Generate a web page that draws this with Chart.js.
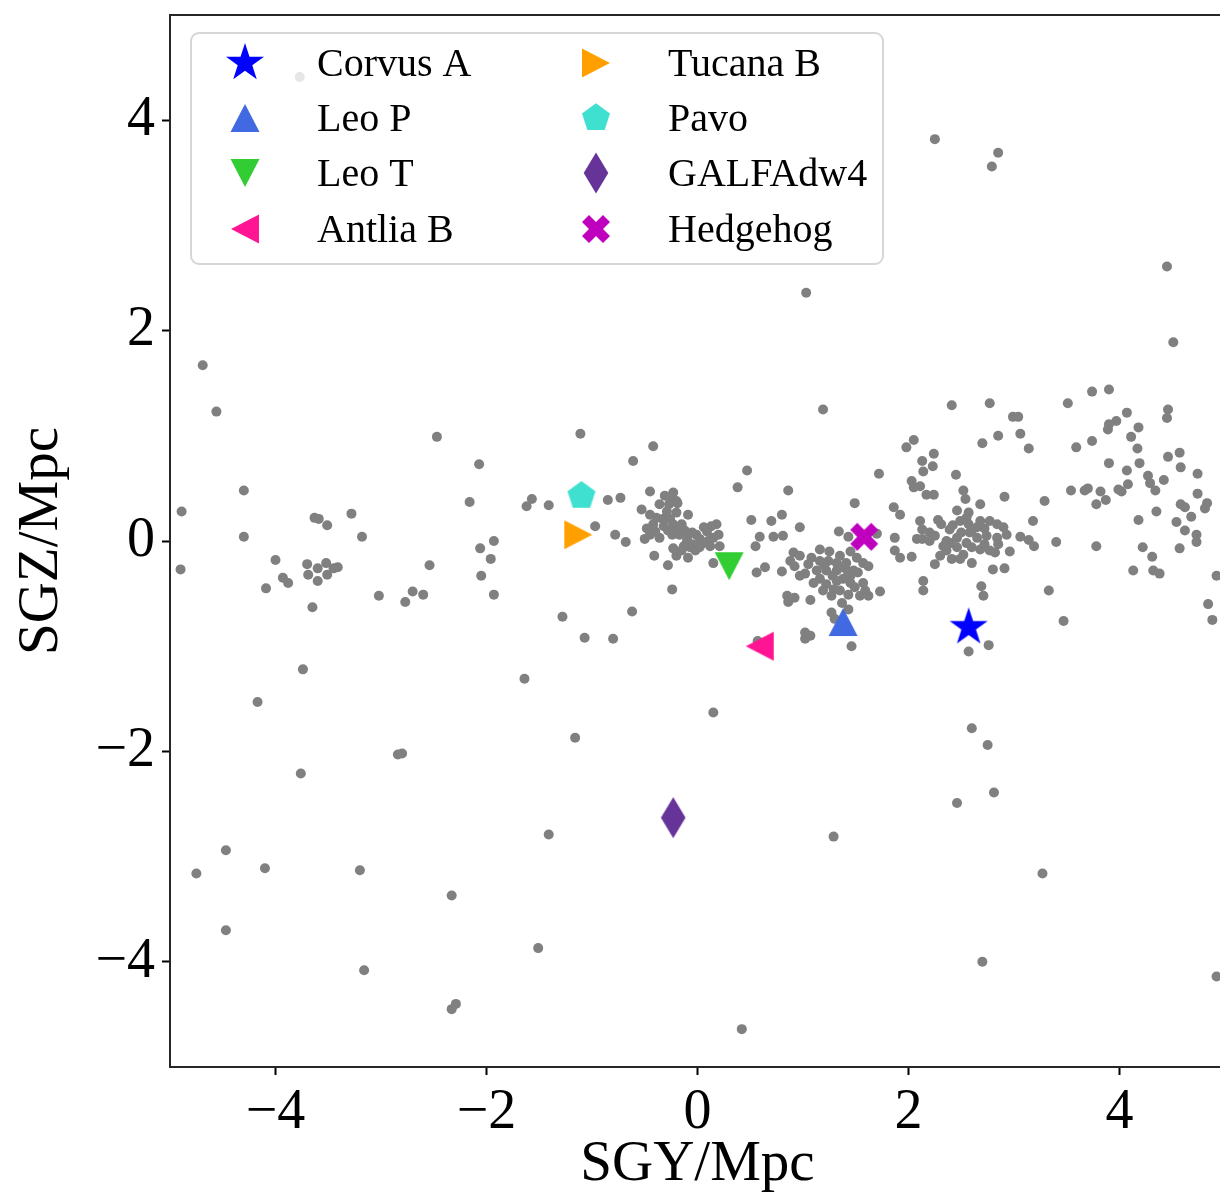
<!DOCTYPE html>
<html>
<head>
<meta charset="utf-8">
<script src="https://cdn.jsdelivr.net/npm/chart.js@4.4.1/dist/chart.umd.min.js"></script>
<style>
	html, body { margin: 0; padding: 0; background: #fff; overflow: hidden; }
	#wrap { position: absolute; left: 0; top: 0; width: 1240px; height: 1201px; }
</style>
</head>
<body>
<div id="wrap"><canvas id="chart" width="1240" height="1201"></canvas></div>
<script>
// field galaxies, grouped by region (SGY, SGZ in Mpc)
const westX = [-4.69,-4.56,-2.47,-2.07,-2.16,-4.30,-4.89,-3.63,-3.59,-3.51,-3.28,-4.30,-3.18,-1.93,-2.06,-1.96,-2.05,-1.93,-2.54,-4.90,-4.00,-3.93,-3.88,-4.09,-3.70,-3.69,-3.60,-3.52,-3.51,-3.60,-3.45,-3.41,-3.65,-3.02,-2.77,-2.70,-2.60];
const westY = [1.67,1.23,0.99,0.73,0.37,0.48,0.28,0.22,0.21,0.15,0.26,0.04,0.04,0.00,-0.07,-0.17,-0.33,-0.51,-0.23,-0.27,-0.18,-0.35,-0.40,-0.45,-0.22,-0.32,-0.26,-0.21,-0.32,-0.38,-0.26,-0.25,-0.63,-0.52,-0.58,-0.48,-0.51];

const southwestX = [-3.74,-4.17,-2.80,-2.84,-3.76,-4.47,-4.75,-4.10,-3.20,-2.33,-4.47,-3.16,-2.29,-2.33,-3.77];
const southwestY = [-1.22,-1.53,-2.02,-2.03,-2.21,-2.94,-3.16,-3.11,-3.13,-3.37,-3.70,-4.08,-4.40,-4.45,4.41];

const localX = [1.03,1.19,-1.11,-0.42,-0.61,0.47,0.38,0.86,1.49,-1.57,-1.62,-1.41,-0.85,-0.73,-0.45,-0.23,-0.20,-0.09,-0.97,-0.78,-0.68,0.51,0.70,0.80,0.97,0.59,0.55,0.72,0.81,1.34,1.43,-0.41,-0.28,-0.20,-0.09,0.15,-0.24,0.56,0.64,0.80,1.07,-0.62];
const localY = [2.36,1.25,1.02,0.90,0.76,0.67,0.51,0.48,0.36,0.40,0.33,0.34,0.39,0.41,0.47,0.46,0.38,0.25,0.14,0.06,-0.01,0.20,0.19,0.25,0.13,0.04,-0.05,0.04,0.05,0.09,0.04,-0.14,-0.23,-0.14,-0.16,-0.21,-0.46,-0.30,-0.25,-0.29,-0.56,-0.67];

const localCoreX = [-0.31,-0.19,-0.36,-0.53,-0.45,-0.29,-0.20,-0.42,-0.32,-0.23,-0.45,-0.36,-0.50,-0.24,-0.17,-0.09,-0.01,0.06,0.13,0.20,0.02,0.10,-0.05,-0.13,-0.23,-0.15,-0.02,0.12,0.21,0.09,0.18,-0.39,-0.15,-0.10,0.02,
	-0.48,-0.40,-0.28,-0.33,-0.26,-0.20,-0.12,-0.05,-0.07,0.05,0.15,-0.27,-0.25];
const localCoreY = [0.43,0.36,0.35,0.30,0.25,0.28,0.27,0.16,0.14,0.16,0.06,0.03,0.02,0.06,0.06,0.05,0.06,0.13,0.14,0.06,0.02,0.00,-0.03,-0.05,-0.07,-0.09,-0.09,-0.05,-0.05,0.09,0.16,0.22,0.16,0.00,-0.06,
	0.12,0.09,0.10,0.21,0.21,0.11,0.10,0.08,-0.06,-0.02,0.03,0.35,0.40];

const southX = [-1.28,-1.07,-0.80,-1.64,0.15,-1.16,-1.41,1.29,-1.51,0.42,0.57];
const southY = [-0.72,-0.92,-0.93,-1.31,-1.63,-1.87,-2.79,-2.81,-3.87,-4.64,-0.95];

const centralX = [1.70,1.87,1.87,1.92,0.97,1.02,0.91,0.97,0.88,0.92,1.08,1.16,1.16,1.24,1.32,1.41,1.51,1.57,1.62,1.13,1.22,1.32,1.38,1.48,1.16,1.22,1.32,1.38,1.45,1.19,1.29,1.35,1.45,1.49,1.57,1.59,1.62,1.54,1.43,1.73,0.85,0.92,0.86,1.37,1.43,1.27,1.30,1.02,1.07,1.02,1.46,
	1.05,1.20,1.28,1.42,1.25,1.35,1.45,1.52,1.27,1.10];
const centralY = [0.07,0.03,-0.09,-0.16,-0.33,-0.31,-0.11,-0.14,-0.19,-0.24,-0.16,-0.08,-0.19,-0.19,-0.21,-0.21,-0.16,-0.21,-0.24,-0.28,-0.28,-0.28,-0.25,-0.28,-0.36,-0.41,-0.38,-0.36,-0.33,-0.47,-0.46,-0.47,-0.40,-0.44,-0.40,-0.47,-0.52,-0.52,-0.51,-0.48,-0.52,-0.54,-0.58,-0.59,-0.65,-0.68,-0.74,-0.87,-0.90,-0.93,-1.00,
	-0.22,-0.23,-0.33,-0.28,-0.10,-0.14,-0.10,-0.30,-0.52,-0.40];

const eastInnerX = [2.03,2.05,2.11,2.17,2.24,2.52,2.54,2.68,2.91,3.29,1.86,1.92,2.46,2.57,3.18,2.03,2.25,2.08,2.14,2.14,2.69,2.71,3.33,2.60,2.80,2.91,2.96,3.06,3.14,3.19];
const eastInnerY = [0.57,0.51,0.52,0.44,0.44,0.48,0.40,0.35,0.42,0.38,0.32,0.25,0.29,0.27,0.19,-0.15,-0.22,0.02,-0.38,-0.47,-0.43,-0.52,-0.47,-0.21,-0.27,-0.26,-0.10,0.04,0.01,-0.05];

const eastCoreX = [2.11,2.13,2.20,2.31,2.39,2.49,2.50,2.57,2.65,2.68,2.77,2.84,2.90,2.93,2.36,2.46,2.55,2.65,2.74,2.84,2.36,2.46,2.52,2.68,2.77,2.82,2.30,2.41,2.49,2.20,2.13,2.58,2.33,
	2.25,2.42,2.60,2.72,2.40,2.60,2.72,2.28,2.55,2.85];
const eastCoreY = [0.19,0.11,0.08,0.16,0.11,0.19,0.08,0.16,0.13,0.19,0.19,0.16,0.13,0.06,0.00,0.03,-0.02,0.03,0.05,0.03,-0.09,-0.06,-0.13,-0.08,-0.09,-0.11,-0.14,-0.17,-0.17,0.00,0.02,0.08,-0.05,
	0.05,0.15,0.10,0.12,-0.02,-0.06,-0.03,0.20,0.22,-0.03];

const eastOuterX = [4.51,2.41,2.77,3.51,3.74,3.90,4.46,4.45,2.99,3.04,2.85,3.06,2.70,3.14,1.98,2.05,2.13,2.24,2.14,2.23,1.72,2.45,3.59,3.74,3.90,3.97,4.07,3.89,4.18,4.11,4.17,3.90,4.19,4.07,4.27,4.29,4.34,4.42,4.46,4.57,4.58,4.74,4.74,4.83,4.81,3.54,3.67,3.70,3.82,3.78,3.87,3.99,4.02,4.08,4.35,4.58,4.62,4.68,4.54,4.18,4.62,4.73,4.73,4.57,4.22,4.31,4.13,4.32,4.38,3.78,4.92,4.84,3.40];
const eastOuterY = [1.89,1.29,1.31,1.31,1.42,1.44,1.25,1.17,1.18,1.18,1.00,1.02,0.93,0.88,0.89,0.96,0.76,0.83,0.66,0.71,0.64,0.63,0.89,0.95,1.11,1.14,1.22,1.06,1.08,0.99,0.88,0.74,0.74,0.67,0.62,0.55,0.48,0.58,0.80,0.84,0.70,0.64,0.45,0.36,0.31,0.48,0.48,0.50,0.47,0.35,0.39,0.49,0.47,0.54,0.28,0.35,0.32,0.23,0.18,0.20,0.10,0.06,-0.01,-0.07,-0.06,-0.15,-0.28,-0.28,-0.31,-0.05,-0.33,-0.60,-0.01];

const farX = [3.47,4.88,2.76,2.57,2.60,2.75,2.81,2.46,3.27,2.70,4.92,2.25,2.85,2.79,4.45];
const farY = [-0.76,-0.75,-0.99,-1.05,-1.78,-1.94,-2.39,-2.49,-3.16,-4.00,-4.14,3.82,3.69,3.56,2.61];

// highlighted dwarfs
const dwarfNames = ['Corvus A', 'Leo P', 'Leo T', 'Antlia B', 'Tucana B', 'Pavo', 'GALFAdw4', 'Hedgehog'];
const dwarfX = [2.57, 1.38, 0.30, 0.59, -1.13, -1.10, -0.23, 1.58];
const dwarfY = [-0.82, -0.77, -0.24, -1.00, 0.06, 0.43, -2.63, 0.04];

const tickValues = [-4, -2, 0, 2, 4];

// styles
const dwarfShapes = ['star', 'up', 'down', 'left', 'right', 'pentagon', 'diamond', 'cross'];
const dwarfColors = ['#0000ff', '#4169e1', '#32cd32', '#ff1493', '#ffa000', '#40e0d0', '#663399', '#bf00bf'];

// рисуем маркер в стиле matplotlib на отдельном канвасе
function makeMarker(shape, color) {
	const c = document.createElement('canvas');
	c.width = 48;
	c.height = 48;
	const g = c.getContext('2d');
	g.translate(24, 24);
	g.fillStyle = color;
	g.beginPath();
	let pts = [];
	if (shape === 'star') {
		for (let k = 0; k < 10; k++) {
			const a = (-90 + k * 36) * Math.PI / 180;
			const r = k % 2 === 0 ? 20 : 20 * 0.382;
			pts.push([r * Math.cos(a), r * Math.sin(a)]);
		}
	} else if (shape === 'pentagon') {
		for (let k = 0; k < 5; k++) {
			const a = (-90 + k * 72) * Math.PI / 180;
			pts.push([14.7 * Math.cos(a), 14.7 * Math.sin(a)]);
		}
	} else if (shape === 'up') {
		pts = [[0, -14], [-14.5, 14], [14.5, 14]];
	} else if (shape === 'down') {
		pts = [[0, 14], [-14.5, -14], [14.5, -14]];
	} else if (shape === 'left') {
		pts = [[-14, 0], [14, -14.5], [14, 14.5]];
	} else if (shape === 'right') {
		pts = [[14, 0], [-14, -14.5], [-14, 14.5]];
	} else if (shape === 'diamond') {
		pts = [[0, -20.5], [12.3, 0], [0, 20.5], [-12.3, 0]];
	} else if (shape === 'cross') {
		const u = [[0.25, 0], [0.5, 0.25], [0.75, 0], [1, 0.25], [0.75, 0.5], [1, 0.75],
			[0.75, 1], [0.5, 0.75], [0.25, 1], [0, 0.75], [0.25, 0.5], [0, 0.25]];
		pts = u.map(p => [(p[0] - 0.5) * 28, (p[1] - 0.5) * 28]);
	}
	pts.forEach((p, i) => i === 0 ? g.moveTo(p[0], p[1]) : g.lineTo(p[0], p[1]));
	g.closePath();
	g.fill();
	return c;
}

const markers = dwarfShapes.map((s, i) => makeMarker(s, dwarfColors[i]));

function zip(xs, ys) {
	return xs.map((x, i) => ({ x: x, y: ys[i] }));
}

const fieldPoints = [].concat(
	zip(westX, westY), zip(southwestX, southwestY), zip(localX, localY),
	zip(localCoreX, localCoreY), zip(southX, southY), zip(centralX, centralY),
	zip(eastInnerX, eastInnerY), zip(eastCoreX, eastCoreY), zip(eastOuterX, eastOuterY),
	zip(farX, farY)
);

const datasets = dwarfNames.map((name, i) => ({
	label: name,
	data: [{ x: dwarfX[i], y: dwarfY[i] }],
	pointStyle: markers[i],
	pointRadius: 14,
	order: 0
}));

datasets.push({
	label: 'field',
	data: fieldPoints,
	pointStyle: 'circle',
	pointRadius: 5,
	pointBorderWidth: 0,
	backgroundColor: '#808080',
	borderColor: '#808080',
	order: 10
});

const serif = '"Liberation Serif", "Times New Roman", serif';

function minusLabel(v) {
	return v < 0 ? '\u2212' + Math.abs(v) : String(v);
}

// фиксируем размеры осей, чтобы область графика совпала с оригиналом
function fixScale(scale, key, size) {
	scale[key] = size;
	scale.paddingTop = 0;
	scale.paddingBottom = 0;
	scale.paddingLeft = 0;
	scale.paddingRight = 0;
}

// рамка вокруг графика и легенда в духе matplotlib
const framePlugin = {
	id: 'frameLegend',
	afterDatasetsDraw(chart) {
		const ctx = chart.ctx;
		const a = chart.chartArea;
		ctx.save();
		ctx.strokeStyle = '#262626';
		ctx.lineWidth = 2;
		ctx.strokeRect(a.left, a.top, a.right - a.left, a.bottom - a.top);

		// legend box
		ctx.beginPath();
		ctx.roundRect(191, 33, 692, 231, 8);
		ctx.fillStyle = 'rgba(255,255,255,0.8)';
		ctx.fill();
		ctx.strokeStyle = 'rgba(204,204,204,0.8)';
		ctx.lineWidth = 2;
		ctx.stroke();

		ctx.font = '40px ' + serif;
		ctx.fillStyle = '#000';
		ctx.textBaseline = 'middle';
		ctx.textAlign = 'left';
		const rowY = [63, 118, 173, 229];
		const markX = [245, 596];
		const textX = [317, 668];
		dwarfNames.forEach((name, i) => {
			const col = Math.floor(i / 4);
			const row = i % 4;
			const m = markers[i];
			ctx.drawImage(m, markX[col] - m.width / 2, rowY[row] - m.height / 2);
			ctx.fillText(name, textX[col], rowY[row] + 2);
		});
		ctx.restore();
	}
};

const ctx = document.getElementById('chart').getContext('2d');

new Chart(ctx, {
	type: 'scatter',
	data: { datasets: datasets },
	options: {
		responsive: false,
		animation: false,
		devicePixelRatio: 1,
		layout: { padding: { left: 0, top: 11, right: 15, bottom: 0 } },
		plugins: {
			legend: { display: false },
			tooltip: { enabled: false }
		},
		scales: {
			x: {
				type: 'linear',
				min: -5,
				max: 5,
				afterBuildTicks: (scale) => { scale.ticks = tickValues.map(v => ({ value: v })); },
				afterFit: (scale) => fixScale(scale, 'height', 134),
				border: { display: false },
				grid: { drawOnChartArea: false, drawTicks: true, tickLength: 8, tickWidth: 2, tickColor: '#000' },
				ticks: {
					color: '#000',
					padding: 5,
					maxRotation: 0,
					font: { family: serif, size: 56 },
					callback: (v) => minusLabel(v)
				},
				title: {
					display: true,
					text: 'SGY/Mpc',
					color: '#000',
					font: { family: serif, size: 57 },
					padding: { top: 0, bottom: 2 }
				}
			},
			y: {
				type: 'linear',
				min: -5,
				max: 5,
				afterBuildTicks: (scale) => { scale.ticks = tickValues.map(v => ({ value: v })); },
				afterFit: (scale) => fixScale(scale, 'width', 170),
				border: { display: false },
				grid: { drawOnChartArea: false, drawTicks: true, tickLength: 8, tickWidth: 2, tickColor: '#000' },
				ticks: {
					color: '#000',
					padding: 7,
					font: { family: serif, size: 56 },
					callback: (v) => minusLabel(v)
				},
				title: {
					display: true,
					text: 'SGZ/Mpc',
					color: '#000',
					font: { family: serif, size: 57 },
					padding: { top: 8, bottom: 0 }
				}
			}
		}
	},
	plugins: [framePlugin]
});
</script>
</body>
</html>
